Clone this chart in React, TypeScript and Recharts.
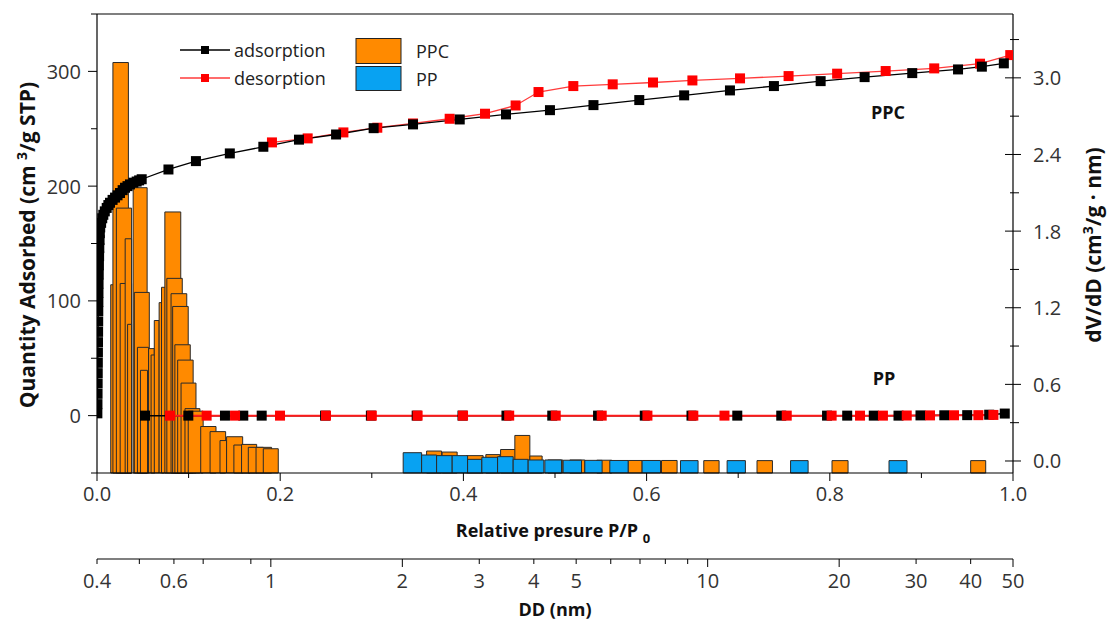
import { ComposedChart, Line, XAxis, YAxis, ReferenceArea, ReferenceLine } from 'recharts';

// isotherms: [relative pressure P/P0, quantity adsorbed (cm3/g STP)]
const ppcAdsorption: [number, number][] = [
  [0.0004, 2], [0.0005, 10], [0.0006, 19], [0.0007, 28], [0.0008, 37], [0.0009, 46],
  [0.001, 55], [0.0011, 64], [0.0012, 73], [0.0013, 82], [0.0014, 91], [0.0015, 99],
  [0.0016, 107], [0.0017, 115], [0.0019, 123], [0.0021, 131], [0.0023, 139], [0.0025, 146],
  [0.0028, 153], [0.0031, 159], [0.0035, 164],
  [0.0045, 168], [0.0057, 172], [0.0069, 175], [0.0085, 178], [0.0106, 181], [0.0124, 183.5],
  [0.0142, 185.5], [0.017, 188], [0.0197, 190], [0.0224, 192], [0.0251, 194], [0.028, 196.5],
  [0.0306, 198.6], [0.0333, 200], [0.036, 201.5], [0.0397, 203], [0.0433, 204], [0.046, 205],
  [0.0488, 206], [0.078, 214.5], [0.108, 221.8], [0.145, 228.5], [0.1816, 234.3], [0.2205, 240.5],
  [0.261, 245], [0.302, 250.5], [0.345, 253.8], [0.396, 258.1], [0.4465, 262.5], [0.4945, 266.2],
  [0.542, 270.6], [0.592, 275], [0.641, 279.1], [0.691, 283.4], [0.739, 287.2], [0.79, 291.5],
  [0.838, 295], [0.89, 298.5], [0.94, 301.7], [0.966, 304.1], [0.99, 307],
];

const ppcDesorption: [number, number][] = [
  [0.191, 238.1], [0.23, 241.6], [0.269, 246.8], [0.306, 250.9], [0.345, 254.6], [0.385, 258.7],
  [0.4236, 263.1], [0.457, 270.3], [0.482, 282], [0.52, 287.2], [0.563, 288.7], [0.607, 290.3],
  [0.65, 292.1], [0.702, 293.9], [0.755, 295.9], [0.808, 298], [0.861, 300.3], [0.914, 302.6],
  [0.964, 306.7], [0.997, 314.2],
];

const ppAdsorption: [number, number][] = [
  [0.0524, 0], [0.0997, 0], [0.1397, 0], [0.1597, 0], [0.1798, 0], [0.249, 0], [0.299, 0],
  [0.349, 0], [0.399, 0], [0.447, 0], [0.497, 0], [0.547, 0], [0.598, 0], [0.649, 0], [0.699, 0],
  [0.747, 0], [0.797, 0], [0.819, 0], [0.848, 0], [0.875, 0], [0.899, 0.2], [0.925, 0.3],
  [0.95, 0.4], [0.974, 0.8], [0.991, 1.8],
];

const ppDesorption: [number, number][] = [
  [0.0797, 0], [0.1197, 0], [0.1507, 0], [0.1998, 0], [0.25, 0], [0.3, 0], [0.35, 0], [0.3996, 0],
  [0.45, 0], [0.5008, 0], [0.551, 0], [0.6009, 0], [0.651, 0], [0.685, 0], [0.753, 0], [0.802, 0],
  [0.833, 0], [0.858, 0], [0.884, 0.1], [0.9094, 0.2], [0.9356, 0.3], [0.9622, 0.4], [0.9786, 0.6],
];

// pore size distribution: [DD from (nm), DD to (nm), dV/dD (cm3/g·nm)]
const ppcPores: [number, number, number][] = [
  [0.43, 0.466, 1.38], [0.435, 0.472, 3.12], [0.443, 0.48, 1.98], [0.452, 0.48, 1.39],
  [0.464, 0.48, 1.74], [0.47, 0.48, 1.07], [0.484, 0.521, 2.14], [0.487, 0.527, 1.32],
  [0.495, 0.525, 0.89], [0.503, 0.522, 0.71], [0.525, 0.541, 0.88], [0.532, 0.543, 0.83],
  [0.541, 0.555, 1.1], [0.555, 0.57, 1.24], [0.562, 0.578, 1.36], [0.572, 0.622, 1.95],
  [0.578, 0.627, 1.43], [0.591, 0.642, 1.31], [0.596, 0.647, 1.21], [0.603, 0.654, 0.91],
  [0.612, 0.664, 0.79], [0.623, 0.674, 0.61], [0.636, 0.688, 0.41], [0.647, 0.7, 0.39],
  [0.691, 0.749, 0.27], [0.726, 0.788, 0.23], [0.765, 0.792, 0.16], [0.792, 0.862, 0.19],
  [0.823, 0.896, 0.125], [0.857, 0.928, 0.13], [0.888, 0.961, 0.107], [0.925, 1.004, 0.107],
  [0.961, 1.04, 0.096],
  [2.273, 2.46, 0.078], [2.467, 2.67, 0.07], [2.806, 3.062, 0.042], [3.106, 3.344, 0.05],
  [3.357, 3.633, 0.09], [3.619, 3.917, 0.2], [3.917, 4.179, 0.039], [4.306, 4.661, 0.008],
  [4.836, 5.233, 0.008], [5.575, 6.033, 0.006], [6.575, 7.078, 0.004], [7.84, 8.512, 0.004],
  [9.797, 10.62, 0.003], [12.97, 14.07, 0.003], [19.26, 20.96, 0.003], [40.0, 43.3, 0.003],
];

const ppPores: [number, number, number][] = [
  [2.009, 2.214, 0.065], [2.214, 2.396, 0.047], [2.396, 2.601, 0.042], [2.601, 2.821, 0.042],
  [2.821, 3.041, 0.013], [3.041, 3.304, 0.029], [3.304, 3.587, 0.034], [3.587, 3.882, 0.013],
  [3.882, 4.217, 0.008], [4.239, 4.629, 0.008], [4.668, 5.143, 0.006], [5.233, 5.733, 0.005],
  [5.97, 6.575, 0.004], [7.078, 7.799, 0.004], [8.665, 9.507, 0.003], [11.08, 12.2, 0.003],
  [15.48, 16.98, 0.003], [26.01, 28.6, 0.003],
];

const pressureTicks = [0, 0.1, 0.2, 0.3, 0.4, 0.5, 0.6, 0.7, 0.8, 0.9, 1.0];
const pressureLabels = [0, 0.2, 0.4, 0.6, 0.8, 1.0];
const quantityTicks = [-50, 0, 50, 100, 150, 200, 250, 300, 350];
const quantityLabels = [0, 100, 200, 300];
const dvTicks = [0, 0.3, 0.6, 0.9, 1.2, 1.5, 1.8, 2.1, 2.4, 2.7, 3.0, 3.3];
const dvLabels = [0, 0.6, 1.2, 1.8, 2.4, 3.0];
const ddTicks = [0.4, 0.5, 0.6, 0.7, 0.8, 0.9, 1, 2, 3, 4, 5, 6, 7, 8, 9, 10, 20, 30, 40, 50];
const ddLabels = [0.4, 0.6, 0.8, 1, 2, 3, 4, 5, 10, 20, 30, 40, 50];
const ddMajor = [1, 2, 10, 20, 50];

const P_DOMAIN: [number, number] = [0, 1];
const DD_DOMAIN: [number, number] = [0.4, 50];
const Q_DOMAIN: [number, number] = [-50, 350];
const DV_DOMAIN: [number, number] = [-0.094, 3.5];
const FONT = '"Open Sans", sans-serif';
const ORANGE = '#FF8A00';
const BLUE = '#08A2F2';
const AXIS_LINE = { stroke: '#000', strokeWidth: 1.2 };

const has = (list: number[], v: number) => list.some((t) => Math.abs(t - v) < 1e-6);
const toPoints = (rows: [number, number][]) => rows.map(([p, v]) => ({ p, v }));
// bar tops, only so the DD axis gets a series of its own
const poreTops = [...ppcPores, ...ppPores].map(([from, , h]) => ({ dd: from, dv: h }));

const square = (fill: string, size: number) => (props: any) => {
  const { cx, cy, index } = props;
  if (cx == null || cy == null) return <g key={index} />;
  return <rect key={index} x={cx - size / 2} y={cy - size / 2} width={size} height={size} fill={fill} />;
};

const tickText = { fontFamily: FONT, fontSize: 20, fill: '#333' };

function PressureTick({ x, y, payload }: any) {
  const major = has(pressureLabels, payload.value);
  return (
    <g>
      <line x1={x} x2={x} y1={y} y2={y + (major ? 8 : 5)} stroke="#000" />
      {major && (
        <text x={x} y={y + 28} textAnchor="middle" {...tickText}>
          {payload.value.toFixed(1)}
        </text>
      )}
    </g>
  );
}

function DdTick({ x, y, payload }: any) {
  const v = payload.value;
  return (
    <g>
      <line x1={x} x2={x} y1={y} y2={y + (has(ddMajor, v) ? 8 : 5)} stroke="#000" />
      {has(ddLabels, v) && (
        <text x={x} y={y + 29} textAnchor="middle" {...tickText}>
          {v}
        </text>
      )}
    </g>
  );
}

function QuantityTick({ x, y, payload }: any) {
  const major = has(quantityLabels, payload.value);
  return (
    <g>
      <line x1={x - (major ? 9 : 6)} x2={x} y1={y} y2={y} stroke="#000" />
      {major && (
        <text x={x - 16} y={y} textAnchor="end" dominantBaseline="central" {...tickText}>
          {payload.value}
        </text>
      )}
    </g>
  );
}

function DvTick({ x, y, payload }: any) {
  const major = has(dvLabels, payload.value);
  return (
    <g>
      <line x1={x - (major ? 8 : 3)} x2={x + (major ? 8 : 6)} y1={y} y2={y} stroke="#000" />
      {major && (
        <text x={x + 20} y={y} textAnchor="start" dominantBaseline="central" {...tickText}>
          {payload.value.toFixed(1)}
        </text>
      )}
    </g>
  );
}

const sideTitle = { fontFamily: FONT, fontSize: 21, fontWeight: 700, fill: '#111' };
const titleText = { fontFamily: FONT, fontSize: 18, fontWeight: 700, fill: '#111' };
const legendText = { fontFamily: FONT, fontSize: 18, fill: '#222' };

function Overlay() {
  return (
    <svg width={1107} height={621} style={{ position: 'absolute', left: 0, top: 0, pointerEvents: 'none' }}>
      <text transform="translate(35,245) rotate(-90)" textAnchor="middle" {...sideTitle}>
        Quantity Adsorbed (cm <tspan fontSize={14} dy={-8}>3</tspan>
        <tspan dy={8}>/g STP)</tspan>
      </text>
      <text transform="translate(1101,245) rotate(-90)" textAnchor="middle" {...sideTitle}>
        dV/dD (cm<tspan fontSize={14} dy={-8}>3</tspan>
        <tspan dy={8}>/g · nm)</tspan>
      </text>
      <text x={553} y={537} textAnchor="middle" {...titleText}>
        Relative presure  P/P <tspan fontSize={13} dy={6}>0</tspan>
      </text>
      <text x={555} y={616} textAnchor="middle" {...titleText}>
        DD (nm)
      </text>

      <line x1={180} x2={230} y1={50} y2={50} stroke="#000" strokeWidth={1.3} />
      <rect x={201} y={46} width={8} height={8} fill="#000" />
      <text x={234} y={50} dominantBaseline="central" {...legendText}>adsorption</text>
      <line x1={180} x2={230} y1={78} y2={78} stroke="#ff3b3b" strokeWidth={1.3} />
      <rect x={201} y={74} width={8} height={8} fill="#ff0000" />
      <text x={234} y={78} dominantBaseline="central" {...legendText}>desorption</text>

      <rect x={356} y={38.5} width={45} height={25} fill={ORANGE} stroke="#222" />
      <text x={416} y={51} dominantBaseline="central" {...legendText}>PPC</text>
      <rect x={356} y={66.5} width={45} height={24} fill={BLUE} stroke="#222" />
      <text x={416} y={79} dominantBaseline="central" {...legendText}>PP</text>

      <text x={888} y={112} textAnchor="middle" dominantBaseline="central" {...titleText}>PPC</text>
      <text x={884} y={378} textAnchor="middle" dominantBaseline="central" {...titleText}>PP</text>
    </svg>
  );
}

const pressureTick = <PressureTick />;
const ddTick = <DdTick />;
const quantityTick = <QuantityTick />;
const dvTick = <DvTick />;

export default function App() {
  return (
    <div style={{ position: 'absolute', left: 0, top: 0, width: 1107, height: 621, background: '#fff' }}>
      <ComposedChart width={1107} height={621} margin={{ top: 14, right: 0, bottom: 0, left: 0 }}>
        <XAxis
          xAxisId="pressure"
          dataKey="p"
          type="number"
          domain={P_DOMAIN}
          ticks={pressureTicks}
          allowDataOverflow
          height={86}
          tickSize={0}
          tickMargin={0}
          tick={pressureTick}
          axisLine={AXIS_LINE}
        />
        <XAxis
          xAxisId="size"
          dataKey="dd"
          type="number"
          scale="log"
          domain={DD_DOMAIN}
          ticks={ddTicks}
          allowDataOverflow
          height={62}
          tickSize={0}
          tickMargin={0}
          tick={ddTick}
          axisLine={AXIS_LINE}
        />
        <YAxis
          yAxisId="left"
          type="number"
          domain={Q_DOMAIN}
          ticks={quantityTicks}
          allowDataOverflow
          width={97}
          tickSize={0}
          tickMargin={0}
          tick={quantityTick}
          axisLine={AXIS_LINE}
        />
        <YAxis
          yAxisId="right"
          orientation="right"
          type="number"
          domain={DV_DOMAIN}
          ticks={dvTicks}
          allowDataOverflow
          width={94}
          tickSize={0}
          tickMargin={0}
          tick={dvTick}
          axisLine={AXIS_LINE}
        />
        <ReferenceLine xAxisId="pressure" yAxisId="left" y={350} stroke="#000" strokeWidth={1.2} />

        <Line
          xAxisId="size"
          yAxisId="right"
          data={poreTops}
          dataKey="dv"
          stroke="none"
          dot={false}
          activeDot={false}
          isAnimationActive={false}
        />

        {ppcPores.map(([from, to, h], i) => (
          <ReferenceArea
            key={`ppc-${i}`}
            xAxisId="size"
            yAxisId="right"
            x1={from}
            x2={to}
            y1={DV_DOMAIN[0]}
            y2={h}
            fill={ORANGE}
            fillOpacity={1}
            stroke="#2a2a2a"
            strokeWidth={1}
          />
        ))}
        {ppPores.map(([from, to, h], i) => (
          <ReferenceArea
            key={`pp-${i}`}
            xAxisId="size"
            yAxisId="right"
            x1={from}
            x2={to}
            y1={DV_DOMAIN[0]}
            y2={h}
            fill={BLUE}
            fillOpacity={1}
            stroke="#2a2a2a"
            strokeWidth={1}
          />
        ))}

        <Line
          xAxisId="pressure"
          yAxisId="left"
          data={toPoints(ppAdsorption)}
          dataKey="v"
          stroke="#000"
          strokeWidth={1.5}
          dot={square('#000', 10)}
          activeDot={false}
          isAnimationActive={false}
        />
        <Line
          xAxisId="pressure"
          yAxisId="left"
          data={toPoints(ppDesorption)}
          dataKey="v"
          stroke="#ff1a1a"
          strokeWidth={2}
          dot={square('#ff0000', 10)}
          activeDot={false}
          isAnimationActive={false}
        />
        <Line
          xAxisId="pressure"
          yAxisId="left"
          data={toPoints(ppcDesorption)}
          dataKey="v"
          stroke="#ff3b3b"
          strokeWidth={1.3}
          dot={square('#ff0000', 10)}
          activeDot={false}
          isAnimationActive={false}
        />
        <Line
          xAxisId="pressure"
          yAxisId="left"
          data={toPoints(ppcAdsorption)}
          dataKey="v"
          stroke="#000"
          strokeWidth={1.3}
          dot={square('#000', 10)}
          activeDot={false}
          isAnimationActive={false}
        />
      </ComposedChart>
      <Overlay />
    </div>
  );
}
